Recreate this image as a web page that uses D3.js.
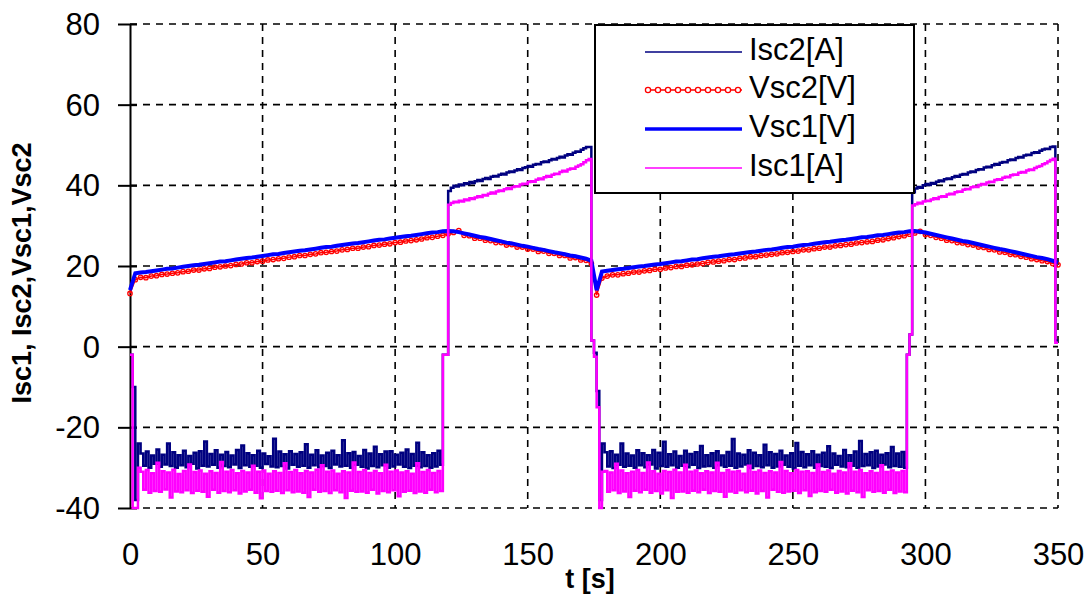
<!DOCTYPE html>
<html><head><meta charset="utf-8">
<script src="https://cdn.jsdelivr.net/npm/d3@7"></script>
<style>body{margin:0;background:#fff}svg{display:block}text{font-family:"Liberation Sans",Arial,sans-serif;fill:#000}</style>
</head><body><svg id="c" width="1087" height="594"></svg>
<script>
// ---------- data ----------
const xTicks = [0, 50, 100, 150, 200, 250, 300, 350];
const yTicks = [-40, -20, 0, 20, 40, 60, 80];
const seriesNames = ["Isc2[A]", "Vsc2[V]", "Vsc1[V]", "Isc1[A]"];
const xTitle = "t [s]";
const yTitle = "Isc1, Isc2,Vsc1,Vsc2";

// currents sampled every 1 s (t = 0..350)
const isc2 = [
 -2,-10,-38,-24,
 -26.5,-29.5,-26,-30,-27,-29,-25.5,-29.8,-26.8,-29.2,
 -24,-29.6,-26.2,-30,-26.9,-29.4,-25.8,-29.9,-27.1,-29,
 -26.3,-30.2,-25.9,-29.5,-23.5,-29.7,-26.6,-29.3,-25.7,-30,
 -26.8,-29.6,-26.1,-29.9,-27,-29.2,-25.6,-30.1,-24.5,-29.4,
 -26.4,-29.8,-26.9,-29.5,-25.8,-30,-26.5,-29.1,-27.2,-29.7,
 -22.8,-29.9,-26,-29.6,-26.7,-30.2,-25.9,-29.3,-26.6,-29.8,
 -26.2,-29.5,-24.2,-30,-26.8,-29.4,-25.7,-29.9,-27,-29.6,
 -26.3,-30.1,-25.8,-29.2,-26.9,-29.7,-23.2,-29.5,-26.4,-30,
 -26.1,-29.3,-27.1,-29.8,-25.6,-30.2,-26.5,-29.6,-24.8,-29.9,
 -26.7,-29.4,-26,-30,-25.9,-29.7,-26.8,-29.2,-26.3,-29.8,
 -25.5,-30.1,-26.6,-29.5,-23.8,-29.9,-26.2,-29.6,-26.9,-30,
 -26.4,-29.7,-25.8,-29.3,
 -2,-2,
 38.6,39.4,39.9,39.7,40.2,40.0,40.5,40.3,40.8,40.6,
 41.0,41.3,41.1,41.6,41.8,41.6,42.1,42.3,42.2,42.6,
 42.9,42.7,43.2,43.4,43.3,43.7,44.0,43.8,44.3,44.5,
 44.8,44.6,45.1,45.3,45.2,45.7,45.9,45.8,46.2,46.5,
 46.4,46.8,47.1,46.9,47.4,47.7,47.6,48.1,48.4,48.3,
 48.8,49.2,49.5,49.5,
 1.5,-1.5,-11,-38,-24,
 -26.2,-29.7,-25.9,-30.1,-26.8,-29.3,-24,-29.8,-26.5,-29.5,
 -27,-30,-25.7,-29.4,-26.4,-29.9,-26.9,-29.2,-25.6,-30.2,
 -26.3,-29.6,-23.6,-29.8,-26.7,-29.4,-26,-30,-27.1,-29.5,
 -25.8,-29.9,-26.6,-29.3,-26.2,-30.1,-24.6,-29.7,-26.9,-29.6,
 -26.4,-30,-25.9,-29.4,-27,-29.8,-26.1,-29.5,-22.9,-30,
 -26.5,-29.7,-26.8,-29.2,-25.7,-30.1,-26.3,-29.6,-26.9,-29.9,
 -24.3,-29.4,-26.2,-30,-26.6,-29.7,-25.8,-29.3,-27,-29.8,
 -26.4,-30.2,-23.9,-29.5,-26.1,-29.9,-26.7,-29.4,-25.9,-30,
 -26.8,-29.6,-26.3,-29.8,-24.7,-30.1,-26.5,-29.3,-27.1,-29.7,
 -25.6,-29.9,-26.9,-29.5,-26,-30,-23.4,-29.6,-26.6,-29.4,
 -26.2,-30.1,-25.8,-29.7,-26.8,-29.2,-26.4,-29.9,-24.9,-29.6,
 -26.5,-29.8,-26.1,-30,
 -2,3,
 38.3,39.2,39.6,39.4,40.0,40.3,40.1,40.6,40.4,40.9,
 41.2,41.0,41.5,41.7,41.6,42.0,42.3,42.1,42.6,42.8,
 42.7,43.2,43.4,43.3,43.8,44.0,43.9,44.4,44.6,44.5,
 45.0,45.3,45.1,45.6,45.8,45.7,46.2,46.4,46.3,46.8,
 47.0,46.9,47.4,47.6,47.5,48.0,48.2,48.1,48.6,48.9,
 49.1,49.0,49.5,49.6,
 1.5,1.5
];
const isc1 = [
 -2,-40,-40,-30,
 -31,-35.5,-30.6,-36.2,-31.4,-35.8,-28.8,-36,-30.9,-35.4,
 -31.2,-37.4,-30.5,-35.9,-31.6,-36.1,-30.8,-35.6,-29.2,-36.3,
 -31.1,-35.7,-30.7,-36,-31.5,-37.2,-30.9,-35.5,-31.3,-36.2,
 -28.6,-35.8,-31,-36.1,-30.6,-35.6,-31.4,-36.4,-30.8,-35.9,
 -31.2,-35.5,-29.5,-36.2,-31,-37.6,-30.7,-35.8,-31.5,-36,
 -30.9,-35.7,-31.3,-36.3,-28.9,-35.6,-31.1,-36.1,-30.6,-35.9,
 -31.4,-36.2,-30.8,-37.3,-31.2,-35.5,-30.5,-36,-29.4,-35.8,
 -31,-36.3,-30.7,-35.6,-31.5,-36.1,-30.9,-37.5,-31.2,-35.7,
 -28.7,-36,-31.1,-35.9,-30.6,-36.2,-31.3,-35.5,-30.8,-36.4,
 -31.4,-35.8,-29.3,-36.1,-31,-35.6,-30.7,-37.1,-31.2,-36,
 -30.9,-35.7,-31.5,-36.3,-28.9,-35.9,-31.1,-36.2,-30.6,-35.5,
 -31.3,-36.1,-30.8,-35.8,
 -2,-2,
 35.2,35.6,35.9,35.8,36.2,36.0,36.5,36.3,36.8,36.6,
 37.0,37.3,37.1,37.6,37.5,37.9,38.2,38.0,38.5,38.7,
 38.6,39.0,39.3,39.1,39.6,39.8,39.7,40.2,40.4,40.3,
 40.8,41.0,40.9,41.4,41.7,41.5,42.0,42.3,42.1,42.6,
 42.9,42.8,43.3,43.6,43.4,43.9,44.2,44.1,44.6,44.9,
 45.2,45.7,46.2,46.5,
 1.5,-2.5,-15,-40,-31,
 -30.8,-36,-31.2,-35.6,-29,-36.3,-30.7,-35.9,-31.4,-37.3,
 -31,-35.7,-30.6,-36.1,-31.3,-35.5,-28.7,-36.2,-30.9,-35.8,
 -31.5,-36.4,-30.8,-35.6,-31.1,-37.5,-30.5,-36,-31.2,-35.9,
 -29.3,-36.2,-31,-35.7,-30.7,-36.1,-31.4,-35.5,-30.9,-36.3,
 -31.2,-35.8,-28.8,-36,-31.3,-37.2,-30.6,-35.9,-31,-36.2,
 -30.8,-35.6,-31.5,-36.1,-29.5,-35.7,-31.1,-36.4,-30.7,-35.8,
 -31.3,-37.4,-30.9,-35.5,-31.2,-36,-28.6,-36.2,-30.8,-35.9,
 -31.4,-35.7,-30.6,-36.3,-31,-35.6,-30.9,-37,-31.3,-36.1,
 -29.2,-35.8,-31.1,-36,-30.7,-35.5,-31.5,-36.2,-30.8,-35.9,
 -31.2,-36.4,-28.9,-35.7,-31,-36.1,-30.6,-37.3,-31.4,-35.6,
 -30.9,-36,-31.3,-35.8,-29.4,-36.2,-31.1,-35.5,-30.7,-36.3,
 -31.2,-35.9,-30.8,-36.1,
 -2,3,
 35.0,35.3,35.7,35.5,36.0,36.2,36.1,36.5,36.8,36.6,
 37.1,37.3,37.2,37.7,37.9,37.8,38.3,38.5,38.4,38.9,
 39.1,39.0,39.5,39.7,39.6,40.1,40.3,40.2,40.7,40.9,
 40.8,41.3,41.5,41.4,41.9,42.1,42.0,42.5,42.7,42.6,
 43.1,43.3,43.2,43.7,43.9,43.8,44.3,44.6,44.8,45.2,
 45.5,45.9,46.3,46.6,
 1,1
];
// voltages sampled every 2 s (t = 0,2,..,350)
const vsc1 = [
 14.0,
 18.2,18.4,18.5,18.7,18.9,19.1,19.3,19.4,19.6,19.8,
 20.0,20.2,20.3,20.5,20.7,20.9,21.1,21.2,21.4,21.6,
 21.8,22.0,22.1,22.3,22.5,22.7,22.9,23.0,23.2,23.4,
 23.6,23.8,23.9,24.1,24.3,24.5,24.7,24.8,25.0,25.2,
 25.4,25.6,25.7,25.9,26.1,26.3,26.5,26.6,26.8,27.0,
 27.2,27.4,27.5,27.7,27.9,28.1,28.3,28.4,28.6,28.7,
 28.6,28.4,28.1,27.8,27.5,27.2,27.0,26.7,26.4,26.1,25.8,25.6,25.3,25.0,
 24.8,24.5,24.2,24.0,23.7,23.4,23.2,22.9,22.6,22.4,22.1,21.8,21.3,
 14.0,18.6,
 18.8,19.0,19.2,19.3,19.5,19.7,19.9,20.0,20.2,20.4,
 20.5,20.7,20.9,21.1,21.2,21.4,21.6,21.7,21.9,22.1,
 22.3,22.4,22.6,22.8,22.9,23.1,23.3,23.5,23.6,23.8,
 24.0,24.1,24.3,24.5,24.7,24.8,25.0,25.2,25.3,25.5,
 25.7,25.9,26.0,26.2,26.4,26.5,26.7,26.9,27.1,27.2,
 27.4,27.6,27.7,27.9,28.1,28.3,28.4,28.6,28.7,
 28.5,28.3,28.0,27.7,27.4,27.1,26.8,26.5,26.2,26.0,25.7,25.4,25.1,24.8,
 24.5,24.2,24.0,23.7,23.4,23.1,22.8,22.5,22.2,22.0,21.7,21.3,20.8
];
const vsc2 = [
 13.2,
 16.6,17.2,17.1,17.5,17.6,17.9,18.0,18.2,18.3,18.6,
 18.7,19.0,19.0,19.3,19.4,19.7,19.8,20.0,20.1,20.4,
 20.5,20.8,20.8,21.1,21.2,21.5,21.6,21.8,21.9,22.2,
 22.3,22.6,22.6,22.9,23.0,23.3,23.4,23.6,23.7,24.0,
 24.1,24.4,24.4,24.7,24.8,25.1,25.2,25.4,25.5,25.8,
 25.9,26.2,26.3,26.5,26.7,27.0,27.1,27.4,27.6,28.0,
 28.3,28.8,27.6,27.5,26.9,26.9,26.4,26.3,25.8,25.8,25.2,25.3,24.7,24.7,
 24.2,24.2,23.6,23.7,23.1,23.1,22.6,22.6,22.0,22.1,21.5,21.4,20.6,
 12.8,17.0,
 17.5,17.8,17.8,18.1,18.2,18.5,18.5,18.8,18.9,19.2,
 19.2,19.5,19.6,19.9,19.9,20.2,20.3,20.5,20.6,20.9,
 21.0,21.2,21.3,21.6,21.6,21.9,22.0,22.3,22.3,22.6,
 22.7,22.9,23.0,23.3,23.4,23.6,23.7,24.0,24.0,24.3,
 24.4,24.7,24.7,25.0,25.1,25.3,25.4,25.7,25.8,26.0,
 26.1,26.4,26.5,26.8,27.0,27.3,27.5,27.9,28.2,
 28.6,27.8,27.6,27.1,26.9,26.4,26.3,25.8,25.7,25.3,25.2,24.7,24.6,24.1,
 24.0,23.5,23.4,22.9,22.8,22.4,22.2,21.8,21.6,21.3,21.1,20.6,20.3
];
const iStep = 1, vStep = 2;

// ---------- drawing ----------
const svg = d3.select("#c");
const x = d3.scaleLinear().domain([0, 350]).range([130, 1058]);
const y = d3.scaleLinear().domain([-40, 80]).range([508, 24]);
const fmt = d => String(d);

// grid
const grid = svg.append("g").attr("stroke", "#000").attr("stroke-width", 1.6).attr("stroke-dasharray", "7,6");
grid.selectAll(".h").data(yTicks).join("line")
  .attr("x1", x(0)).attr("x2", x(350)).attr("y1", d => y(d)).attr("y2", d => y(d));
grid.selectAll(".v").data(xTicks.filter(d => d > 0)).join("line")
  .attr("x1", d => x(d)).attr("x2", d => x(d)).attr("y1", y(80)).attr("y2", y(-40));

// y axis
const ya = svg.append("g").attr("transform", `translate(${x(0)},0)`)
  .call(d3.axisLeft(y).tickValues(yTicks).tickFormat(fmt).tickSizeOuter(0).tickSizeInner(12).tickPadding(18));
ya.select(".domain").attr("stroke", "#000").attr("stroke-width", 2);
ya.selectAll(".tick line").attr("x1", 7).attr("x2", -12).attr("stroke", "#000").attr("stroke-width", 2);
ya.selectAll(".tick text").attr("font-size", 31).attr("font-family", "Liberation Sans, Arial, sans-serif").attr("dy", "0.34em");

// x axis labels (no axis line)
const xa = svg.append("g").attr("transform", `translate(0,${y(-40)})`)
  .call(d3.axisBottom(x).tickValues(xTicks).tickFormat(fmt).tickSize(0).tickPadding(35));
xa.select(".domain").remove();
xa.selectAll(".tick text").attr("font-size", 31).attr("font-family", "Liberation Sans, Arial, sans-serif");

// titles
svg.append("text").attr("x", 590).attr("y", 588).attr("text-anchor", "middle")
  .attr("font-size", 27).attr("font-weight", "bold").text(xTitle);
svg.append("text").attr("transform", "translate(31,273) rotate(-90)").attr("text-anchor", "middle")
  .attr("font-size", 27).attr("font-weight", "bold").text(yTitle);

// series
const iLine = d3.line().x((d, i) => x(i * iStep)).y(d => y(d)).curve(d3.curveStepAfter);
const vLine = d3.line().x((d, i) => x(i * vStep)).y(d => y(d));

svg.append("path").datum(isc2).attr("d", iLine).attr("fill", "none").attr("stroke", "#000080").attr("stroke-width", 2.5);
svg.append("path").datum(vsc2).attr("d", vLine).attr("fill", "none").attr("stroke", "#ff0000").attr("stroke-width", 1.5);
svg.append("g").selectAll("circle").data(vsc2).join("circle")
  .attr("cx", (d, i) => x(i * vStep)).attr("cy", d => y(d)).attr("r", 2.2)
  .attr("fill", "none").attr("stroke", "#ff0000").attr("stroke-width", 1.3);
svg.append("path").datum(vsc1).attr("d", vLine).attr("fill", "none").attr("stroke", "#0000ff").attr("stroke-width", 4);
svg.append("path").datum(isc1).attr("d", iLine).attr("fill", "none").attr("stroke", "#ff00ff").attr("stroke-width", 2.5);

// legend
const lg = svg.append("g");
lg.append("rect").attr("x", 595).attr("y", 25).attr("width", 319).attr("height", 168)
  .attr("fill", "#fff").attr("stroke", "#000").attr("stroke-width", 2);
const styles = [
  {c: "#000080", w: 1.7, m: false},
  {c: "#ff0000", w: 1.5, m: true},
  {c: "#0000ff", w: 3.5, m: false},
  {c: "#ff00ff", w: 1.7, m: false}
];
const rowY = [52, 90, 129, 168];
seriesNames.forEach((name, k) => {
  const s = styles[k], yy = rowY[k];
  lg.append("line").attr("x1", 645).attr("x2", 742).attr("y1", yy).attr("y2", yy)
    .attr("stroke", s.c).attr("stroke-width", s.w);
  if (s.m) {
    lg.append("g").selectAll("circle").data(d3.range(10)).join("circle")
      .attr("cx", j => 648 + j * 10).attr("cy", yy).attr("r", 2.6)
      .attr("fill", "#fff").attr("stroke", s.c).attr("stroke-width", 1.3);
  }
  lg.append("text").attr("x", 749).attr("y", yy + 8).attr("font-size", 31).text(name);
});
</script></body></html>
